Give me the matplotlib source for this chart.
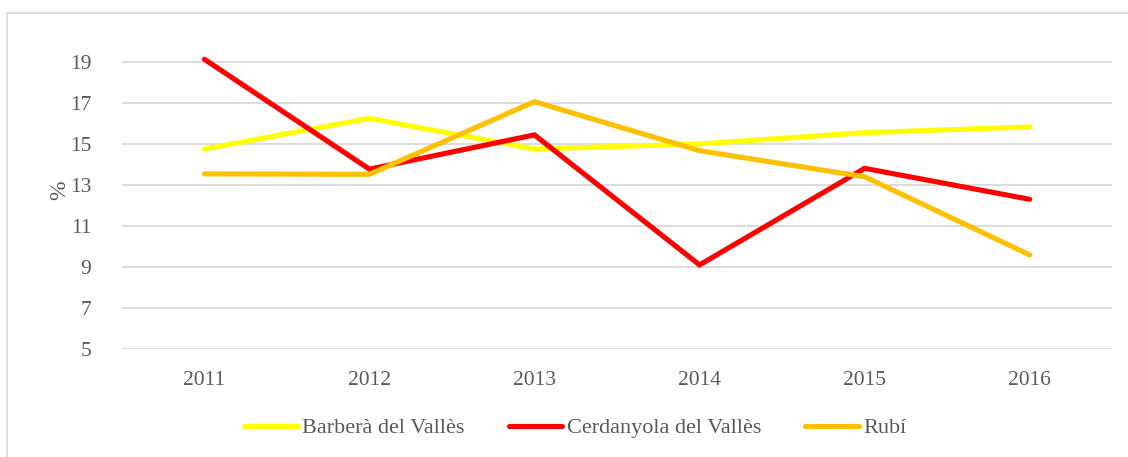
import matplotlib

matplotlib.use("Agg")
import matplotlib.pyplot as plt
from matplotlib.patches import Rectangle

years = ["2011", "2012", "2013", "2014", "2015", "2016"]
barbera = [14.75, 16.25, 14.75, 15.0, 15.55, 15.83]
cerdanyola = [19.13, 13.77, 15.44, 9.1, 13.81, 12.3]
rubi = [13.54, 13.52, 17.06, 14.67, 13.4, 9.59]

series = [
    ("Barberà del Vallès", barbera, "#FFFF00"),
    ("Cerdanyola del Vallès", cerdanyola, "#FF0000"),
    ("Rubí", rubi, "#FFC000"),
]

plt.rcParams["font.family"] = ["Liberation Serif", "DejaVu Serif"]
TEXT = "#595959"

fig = plt.figure(figsize=(11.28, 4.57), dpi=100)
ax = fig.add_axes((0.108, 0.2363, 0.878, 0.718))

x = range(len(years))
for name, vals, color in series:
    ax.plot(x, vals, color=color, lw=3.7, solid_capstyle="round",
            solid_joinstyle="miter", label=name, zorder=3)

ax.set_xlim(-0.5, len(years) - 0.5)
ax.set_ylim(5, 21)
ax.set_yticks([5, 7, 9, 11, 13, 15, 17, 19])
ax.set_xticks(list(x))
ax.set_xticklabels(years)
ax.tick_params(axis="both", length=0, labelsize=15.5, colors=TEXT)
ax.tick_params(axis="y", pad=22)
ax.tick_params(axis="x", pad=16)
ax.grid(axis="y", color="#D9D9D9", lw=1.3, zorder=0)
for s in ax.spines.values():
    s.set_visible(False)
ax.set_ylabel("%", fontsize=17, color=TEXT)
ax.yaxis.set_label_coords(-0.052, 0.485)

fig.legend(loc="center", bbox_to_anchor=(0.51, 0.063), ncol=3, frameon=False,
           fontsize=16, labelcolor=TEXT, handlelength=2.4, handletextpad=0.2,
           columnspacing=2.0)

fig.patches.append(Rectangle((7 / 1128, -0.01), 1.0, 1 - 13 / 457 + 0.01,
                             transform=fig.transFigure, fill=False,
                             edgecolor="#D9D9D9", lw=1.2))

fig.savefig("out.png", dpi=100)
